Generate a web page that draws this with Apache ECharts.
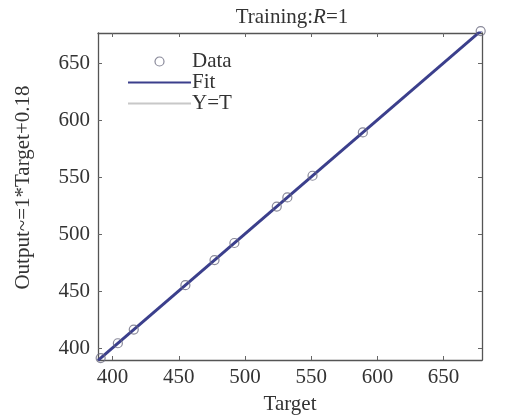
<!DOCTYPE html>
<html>
<head>
<meta charset="utf-8">
<script src="https://cdn.jsdelivr.net/npm/echarts@6/dist/echarts.min.js"></script>
<style>
  html, body { margin: 0; padding: 0; background: #fff; }
  #chart { width: 522px; height: 415px; }
</style>
</head>
<body>
<div id="chart"></div>
<script>
// training targets and network outputs
var targets = [391, 404, 416, 455, 477, 492, 524, 532, 551, 589, 678];
var outputs = [391.2, 404.2, 416.2, 455.2, 477.2, 492.2, 524.2, 532.2, 551.2, 589.2, 678.2];
var fitSlope = 1;
var fitIntercept = 0.18;
var axisRange = [389, 679];
var yRange = [389.5, 676.5];
var tickValues = [400, 450, 500, 550, 600, 650];

var serif = '"Liberation Serif", "DejaVu Serif", serif';
var fs = 21;

var scatterData = targets.map(function (t, i) { return [t, outputs[i]]; });
var fitData = axisRange.map(function (t) { return [t, fitSlope * t + fitIntercept]; });
var ytData = axisRange.map(function (t) { return [t, t]; });

function makeAxis(pos, range, labels) {
    return {
        type: 'value',
        position: pos,
        min: range[0],
        max: range[1],
        splitLine: { show: false },
        axisLine: { show: true, onZero: false, lineStyle: { color: '#555', width: 1.3 } },
        axisTick: { show: true, inside: true, length: 4, customValues: tickValues, lineStyle: { color: '#666' } },
        axisLabel: { show: labels, customValues: tickValues, color: '#333', fontFamily: serif, fontSize: fs, margin: 8 }
    };
}

var myChart = echarts.init(document.getElementById('chart'));
var xBottom = makeAxis('bottom', axisRange, true);
xBottom.axisLabel.margin = 7;
xBottom.name = 'Target';
xBottom.nameLocation = 'middle';
xBottom.nameGap = 34;
xBottom.nameTextStyle = { color: '#333', fontFamily: serif, fontSize: fs };
var yLeft = makeAxis('left', yRange, true);
yLeft.name = 'Output~=1*Target+0.18';
yLeft.nameLocation = 'middle';
yLeft.nameGap = 64;
yLeft.nameTextStyle = { color: '#333', fontFamily: serif, fontSize: fs, padding: [0, 0, 0, 18] };

var option = {
    backgroundColor: '#fff',
    animation: false,
    title: {
        text: '{a|Training:}{b|R}{a|=1}',
        left: 287,
        textAlign: 'center',
        top: 2,
        textStyle: {
            rich: {
                a: { fontFamily: serif, fontSize: fs, color: '#333', fontWeight: 'normal' },
                b: { fontFamily: serif, fontSize: fs, color: '#333', fontWeight: 'normal', fontStyle: 'italic' }
            }
        }
    },
    grid: { left: 98, right: 40, top: 33, bottom: 55, outerBoundsMode: 'none' },
    legend: {
        orient: 'vertical',
        left: 122,
        top: 46,
        itemWidth: 63,
        itemHeight: 9,
        itemGap: 0,
        textStyle: { fontFamily: serif, fontSize: fs, color: '#333', padding: [0, 0, 0, -4] },
        data: [
            { name: 'Data', icon: 'circle', itemStyle: { color: 'rgba(0,0,0,0)', borderColor: '#6a6a80', borderWidth: 1.2 } },
            { name: 'Fit', itemStyle: { opacity: 0 } },
            { name: 'Y=T', itemStyle: { opacity: 0 } }
        ]
    },
    xAxis: [xBottom, makeAxis('top', axisRange, false)],
    yAxis: [yLeft, makeAxis('right', yRange, false)],
    series: [
        {
            name: 'Y=T',
            type: 'line',
            data: ytData,
            symbol: 'none',
            lineStyle: { color: '#c8c8c8', width: 1.5 },
            itemStyle: { color: '#c8c8c8' },
            z: 1
        },
        {
            name: 'Fit',
            type: 'line',
            data: fitData,
            symbol: 'none',
            lineStyle: { color: '#3b3f8c', width: 3 },
            itemStyle: { color: '#3b3f8c' },
            z: 2
        },
        {
            name: 'Data',
            type: 'scatter',
            data: scatterData,
            symbol: 'circle',
            symbolSize: 9,
            clip: false,
            itemStyle: { color: 'rgba(0,0,0,0)', borderColor: '#6a6a80', borderWidth: 1.2 },
            z: 3
        }
    ]
};
myChart.setOption(option);
</script>
</body>
</html>
